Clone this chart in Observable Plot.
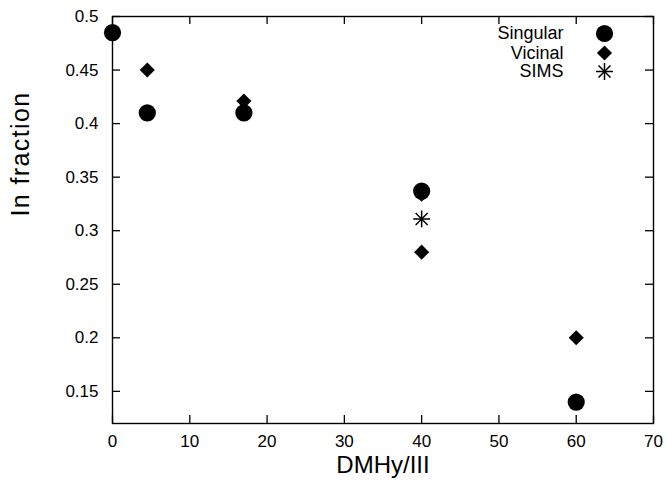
<!DOCTYPE html>
<html>
<head>
<meta charset="utf-8">
<script src="https://cdn.jsdelivr.net/npm/d3@7"></script>
<script src="https://cdn.jsdelivr.net/npm/@observablehq/plot@0.6"></script>
<style>
  html, body { margin: 0; padding: 0; background: #fff; }
  #chart svg { display: block; }
</style>
</head>
<body>
<div id="chart"></div>
<script>
// ---- data ----
const seriesNames = ["Singular", "Vicinal", "SIMS"];
const singularX = [0, 4.5, 17, 40, 60];
const singularY = [0.485, 0.41, 0.41, 0.337, 0.14];
const vicinalX = [4.5, 17, 40, 40, 60];
const vicinalY = [0.45, 0.421, 0.334, 0.28, 0.2];
const simsX = [40];
const simsY = [0.311];
const xTicks = [0, 10, 20, 30, 40, 50, 60, 70];
const yTicks = [0.15, 0.2, 0.25, 0.3, 0.35, 0.4, 0.45, 0.5];
const yTickLabels = ["0.15", "0.2", "0.25", "0.3", "0.35", "0.4", "0.45", "0.5"];
const xLabel = "DMHy/III";
const yLabel = "In fraction";

// ---- layout ----
const W = 666, H = 481;
const mL = 112, mR = 13, mT = 16, mB = 58;
const innerW = W - mL - mR, innerH = H - mT - mB;
const tickLen = 8;

const singular = singularX.map((x, i) => ({x, y: singularY[i]}));
const vicinal = vicinalX.map((x, i) => ({x, y: vicinalY[i]}));
const sims = simsX.map((x, i) => ({x, y: simsY[i]}));

const legendDy = [17, 36.5, 55];
const starR = 5.5;
const circleR = 8.6;
const diamondR = 6.8;

const chart = Plot.plot({
  width: W,
  height: H,
  marginLeft: mL,
  marginRight: mR,
  marginTop: mT,
  marginBottom: mB,
  style: {fontFamily: "'Liberation Sans', Arial, sans-serif", background: "#fff", color: "#000"},
  x: {domain: [0, 70]},
  y: {domain: [0.12, 0.5]},
  marks: [
    Plot.frame({stroke: "#000", strokeWidth: 1.4}),
    // inward ticks, all four sides
    Plot.tickX(xTicks, {x: d => d, insetTop: innerH - tickLen, stroke: "#000", strokeWidth: 1.3}),
    Plot.tickX(xTicks, {x: d => d, insetBottom: innerH - tickLen, stroke: "#000", strokeWidth: 1.3}),
    Plot.tickY(yTicks, {y: d => d, insetRight: innerW - tickLen, stroke: "#000", strokeWidth: 1.3}),
    Plot.tickY(yTicks, {y: d => d, insetLeft: innerW - tickLen, stroke: "#000", strokeWidth: 1.3}),
    Plot.axisX({ticks: xTicks, tickSize: 0, tickPadding: 11, fontSize: 17, label: null}),
    Plot.axisY({ticks: yTicks, tickSize: 0, tickPadding: 14, fontSize: 17, label: null,
      tickFormat: (d) => yTickLabels[yTicks.indexOf(d)]}),
    // axis titles
    Plot.text([xLabel], {text: d => d, frameAnchor: "bottom", lineAnchor: "middle", dy: 42, fontSize: 24, fill: "#000"}),
    Plot.text([yLabel], {text: d => d, frameAnchor: "left", rotate: -90, lineAnchor: "middle", dx: -92, dy: -3.5, fontSize: 25, fill: "#000", className: "ytitle"}),
    // data
    Plot.dot(singular, {x: "x", y: "y", symbol: "circle", r: circleR, fill: "#000", stroke: "none"}),
    Plot.dot(vicinal, {x: "x", y: "y", symbol: "diamond2", r: diamondR, fill: "#000", stroke: "none"}),
    Plot.dot(sims, {x: "x", y: "y", symbol: "plus", r: starR, stroke: "#000", strokeWidth: 1.5}),
    Plot.dot(sims, {x: "x", y: "y", symbol: "times", r: starR, stroke: "#000", strokeWidth: 1.5}),
    // legend
    ...seriesNames.map((name, i) => Plot.text([name], {text: d => d, frameAnchor: "top-right", textAnchor: "end", lineAnchor: "middle", dx: -90, dy: legendDy[i], fontSize: 18, fill: "#000"})),
    Plot.dot([seriesNames[0]], {frameAnchor: "top-right", dx: -49, dy: legendDy[0], symbol: "circle", r: circleR, fill: "#000", stroke: "none"}),
    Plot.dot([seriesNames[1]], {frameAnchor: "top-right", dx: -49, dy: legendDy[1], symbol: "diamond2", r: diamondR, fill: "#000", stroke: "none"}),
    Plot.dot([seriesNames[2]], {frameAnchor: "top-right", dx: -49, dy: legendDy[2], symbol: "plus", r: starR, stroke: "#000", strokeWidth: 1.5}),
    Plot.dot([seriesNames[2]], {frameAnchor: "top-right", dx: -49, dy: legendDy[2], symbol: "times", r: starR, stroke: "#000", strokeWidth: 1.5})
  ]
});
chart.querySelectorAll("g.ytitle text").forEach(t => t.style.letterSpacing = "1.4px");
document.getElementById("chart").appendChild(chart);
</script>
</body>
</html>
